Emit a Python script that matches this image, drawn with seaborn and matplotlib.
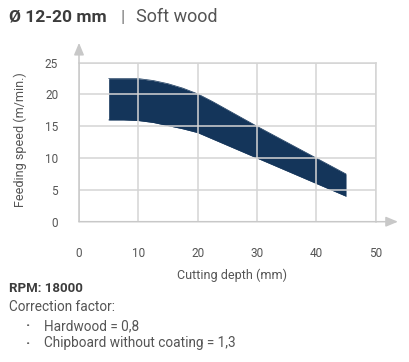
import matplotlib
matplotlib.use("Agg")
import matplotlib.pyplot as plt
import seaborn as sns
import pandas as pd
import numpy as np

# Data
depth_upper = [5, 7.5, 10, 12.5, 15, 17.5, 20, 22.5, 25, 27.5, 30, 35, 40, 45]
speed_upper = [22.5, 22.5, 22.5, 22.2, 21.7, 21.0, 20.1, 18.9, 17.6, 16.3, 15.0, 12.5, 10.0, 7.5]
depth_lower = [5, 7.5, 10, 12.5, 15, 17.5, 20, 25, 30, 35, 40, 45]
speed_lower = [16.0, 16.0, 15.9, 15.6, 15.1, 14.6, 14.0, 12.0, 10.0, 8.0, 6.0, 4.0]
x_ticks = [0, 10, 20, 30, 40, 50]
y_ticks = [0, 5, 10, 15, 20, 25]

title_bold = "Ø 12-20 mm"
title_rest = "Soft wood"
x_label = "Cutting depth (mm)"
y_label = "Feeding speed (m/min.)"
rpm_text = "RPM: 18000"
corr_text = "Correction factor:"
bullets = ["Hardwood = 0,8", "Chipboard without coating = 1,3"]

sns.set_theme(style="white")
plt.rcParams['font.family'] = ['Roboto', 'DejaVu Sans']

W, H = 409, 362
fig = plt.figure(figsize=(W / 100, H / 100), dpi=100)
x0, x1, y0, y1 = 79, 375.7, 221.7, 62.7
ax = fig.add_axes([x0 / W, 1 - y0 / H, (x1 - x0) / W, (y0 - y1) / H])

fill_color = "#14355a"
grid_color = "#d4d4d4"
text_color = "#555555"

xs = np.array(sorted(set(depth_upper) | set(depth_lower)))
up = np.interp(xs, depth_upper, speed_upper)
lo = np.interp(xs, depth_lower, speed_lower)
df = pd.DataFrame({"depth": list(depth_upper) + list(depth_lower),
                   "speed": list(speed_upper) + list(speed_lower),
                   "edge": ["upper"] * len(depth_upper) + ["lower"] * len(depth_lower)})
sns.lineplot(data=df, x="depth", y="speed", units="edge", estimator=None,
             color=fill_color, lw=0.5, ax=ax, zorder=2)
ax.fill_between(xs, lo, up, color=fill_color, lw=0, zorder=2)

ax.set_xlim(0, 50)
ax.set_ylim(0, 25)
ax.set_xticks(x_ticks)
ax.set_yticks(y_ticks)
ax.grid(True, color=grid_color, lw=1.1, zorder=3)
ax.set_axisbelow(False)
for s in ["top", "right"]:
    ax.spines[s].set_visible(True)
    ax.spines[s].set_color(grid_color)
    ax.spines[s].set_linewidth(1.1)
for s in ["left", "bottom"]:
    ax.spines[s].set_visible(False)
ax.tick_params(axis="both", length=0, labelsize=8.5, labelcolor=text_color)
ax.tick_params(axis="y", pad=15)
ax.tick_params(axis="x", pad=18)

arrow_kw = dict(arrowstyle="-|>,head_length=0.6,head_width=0.25", color="#c8c8c8", lw=1.1,
                shrinkA=0, shrinkB=0)
ax.annotate("", xy=(0, 1.125), xytext=(0, 0), xycoords="axes fraction",
            textcoords="axes fraction", arrowprops=arrow_kw, annotation_clip=False)
ax.annotate("", xy=(1.075, 0), xytext=(0, 0), xycoords="axes fraction",
            textcoords="axes fraction", arrowprops=arrow_kw, annotation_clip=False)

ax.set_xlabel(x_label, fontsize=9, color=text_color)
ax.set_ylabel(y_label, fontsize=9, color=text_color)
ax.xaxis.set_label_coords((232 - x0) / (x1 - x0), (y0 - 275) / (y0 - y1))
ax.yaxis.set_label_coords((20 - x0) / (x1 - x0), (y0 - 140) / (y0 - y1))
ax.xaxis.label.set_va("center")
ax.yaxis.label.set_va("center")

fig.text(9 / W, 1 - 17 / H, title_bold, fontsize=12.5, fontweight="bold", color="#3c3c3c", va="center")
fig.text(121 / W, 1 - 17 / H, "|", fontsize=12.5, color="#777777", va="center")
fig.text(136 / W, 1 - 17 / H, title_rest, fontsize=13, color="#555555", va="center")

fig.text(9 / W, 1 - 289 / H, rpm_text, fontsize=9.5, fontweight="bold", color="#3c3c3c", va="center")
fig.text(9 / W, 1 - 307 / H, corr_text, fontsize=9.8, color=text_color, va="center")
for i, b in enumerate(bullets):
    yy = 1 - (326 + 17.5 * i) / H
    fig.text(26.5 / W, yy, "·", fontsize=10, fontweight="bold", color=text_color, va="center")
    fig.text(44 / W, yy, b, fontsize=9.8, color=text_color, va="center")

fig.savefig("out.png", dpi=100)
